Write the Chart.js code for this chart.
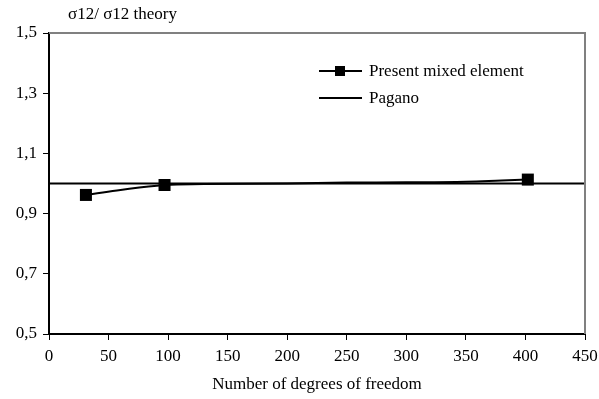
<!DOCTYPE html>
<html>
<head>
<meta charset="utf-8">
<script src="https://cdn.jsdelivr.net/npm/chart.js@4"></script>
<style>
  html, body { margin: 0; padding: 0; background: #fff; }
  #wrap { width: 599px; height: 399px; position: relative; }
</style>
</head>
<body>
<div id="wrap"><canvas id="chart"></canvas></div>
<script>
// values
const dof = [31, 57, 97, 130, 200, 250, 300, 350, 380, 402];
const mixed = [0.962, 0.977, 0.995, 0.998, 1.0, 1.003, 1.004, 1.006, 1.01, 1.013];
const markerAt = [31, 97, 402];
const paganoX = [0, 450];
const paganoY = [1.0, 1.0];
const xTicks = [0, 50, 100, 150, 200, 250, 300, 350, 400, 450];
const yTicks = [0.5, 0.7, 0.9, 1.1, 1.3, 1.5];

const FONT = 'Liberation Serif';

// frame on top and right, legend and y title
const extras = {
  id: 'extras',
  afterDraw(chart) {
    const { ctx, chartArea: a } = chart;
    ctx.save();
    ctx.strokeStyle = '#808080';
    ctx.lineWidth = 2;
    ctx.beginPath();
    ctx.moveTo(a.left, a.top);
    ctx.lineTo(a.right, a.top);
    ctx.lineTo(a.right, a.bottom);
    ctx.stroke();

    ctx.fillStyle = '#000';
    ctx.font = '17px "' + FONT + '"';
    ctx.textBaseline = 'middle';
    ctx.fillText('\u03c312/ \u03c312 theory', 68, 15);

    // legend
    const items = [
      { label: 'Present mixed element', marker: true },
      { label: 'Pagano', marker: false }
    ];
    items.forEach((it, i) => {
      const y = 71 + i * 27;
      ctx.strokeStyle = '#000';
      ctx.lineWidth = 2;
      ctx.beginPath();
      ctx.moveTo(319, y);
      ctx.lineTo(362, y);
      ctx.stroke();
      if (it.marker) ctx.fillRect(335, y - 5, 10, 10);
      ctx.fillText(it.label, 369, y + 1);
    });
    ctx.restore();
  }
};

new Chart(document.getElementById('chart'), {
  type: 'line',
  data: {
    datasets: [
      {
        label: 'Present mixed element',
        data: dof.map((x, i) => ({ x: x, y: mixed[i] })),
        borderColor: '#000',
        backgroundColor: '#000',
        borderWidth: 2,
        tension: 0.4,
        pointStyle: 'rect',
        pointRadius: dof.map(x => markerAt.includes(x) ? 8.5 : 0),
        pointBorderWidth: 0
      },
      {
        label: 'Pagano',
        data: paganoX.map((x, i) => ({ x: x, y: paganoY[i] })),
        borderColor: '#000',
        borderWidth: 2,
        pointRadius: 0
      }
    ]
  },
  options: {
    responsive: true,
    maintainAspectRatio: false,
    animation: false,
    layout: { padding: { top: 33, right: 14, left: 0, bottom: 0 } },
    plugins: {
      legend: { display: false },
      tooltip: { enabled: false }
    },
    scales: {
      x: {
        type: 'linear',
        min: 0,
        max: 450,
        afterBuildTicks: s => { s.ticks = xTicks.map(v => ({ value: v })); },
        afterFit: s => { s.height = 65; s.paddingRight = 0; s.paddingLeft = 0; },
        ticks: { color: '#000', font: { family: FONT, size: 17 }, padding: 6, maxRotation: 0 },
        grid: { drawOnChartArea: false, drawTicks: true, tickLength: 6, color: '#000' },
        border: { color: '#000', width: 2 },
        title: {
          display: true,
          text: 'Number of degrees of freedom',
          color: '#000',
          font: { family: FONT, size: 17 },
          padding: { top: 6 }
        }
      },
      y: {
        type: 'linear',
        min: 0.5,
        max: 1.5,
        afterBuildTicks: s => { s.ticks = yTicks.map(v => ({ value: v })); },
        afterFit: s => { s.width = 49; },
        ticks: {
          color: '#000',
          font: { family: FONT, size: 17 },
          padding: 6,
          callback: v => v.toFixed(1).replace('.', ',')
        },
        grid: { drawOnChartArea: false, drawTicks: true, tickLength: 6, color: '#000' },
        border: { color: '#000', width: 2 }
      }
    }
  },
  plugins: [extras]
});
</script>
</body>
</html>
